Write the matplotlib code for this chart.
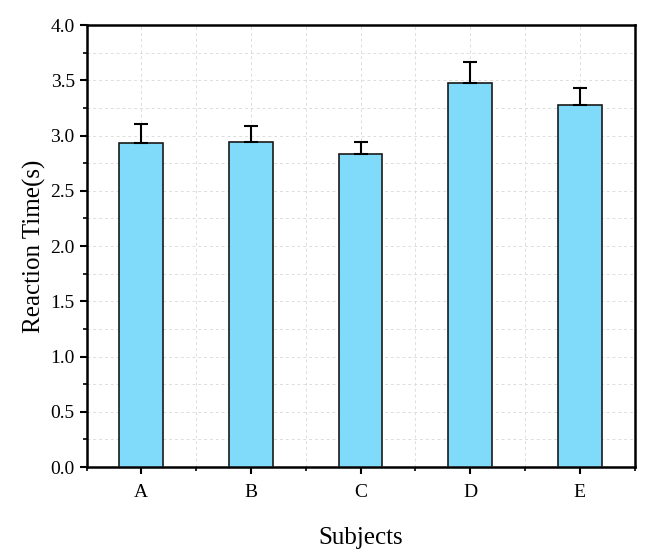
import matplotlib
matplotlib.use("Agg")
import matplotlib.pyplot as plt
from matplotlib.ticker import MultipleLocator

# Data
subjects = ["A", "B", "C", "D", "E"]
reaction_time = [2.93, 2.94, 2.83, 3.48, 3.28]
reaction_err = [0.175, 0.15, 0.11, 0.19, 0.15]

plt.rcParams['font.family'] = ['Liberation Serif', 'DejaVu Serif']

fig = plt.figure(figsize=(6.52, 5.58), dpi=100)
ax = fig.add_axes([0.1327, 0.163, 0.8405, 0.792])

x = list(range(len(subjects)))
ax.bar(x, reaction_time, width=0.4, color='#80DBFA', edgecolor='#1a1a1a',
       linewidth=1.2, zorder=3)
ax.errorbar(x, reaction_time, yerr=[[0] * len(x), reaction_err], fmt='none',
            ecolor='black', elinewidth=1.5, capsize=4.7, capthick=1.5, zorder=4)

ax.set_xlim(-0.5, 4.5)
ax.set_ylim(0, 4.0)
ax.set_xticks(x)
ax.set_xticklabels(subjects)
ax.xaxis.set_minor_locator(MultipleLocator(0.5))
ax.yaxis.set_major_locator(MultipleLocator(0.5))
ax.yaxis.set_minor_locator(MultipleLocator(0.25))

ax.grid(True, which='both', linestyle=(0, (3, 3)), color='#dddddd', linewidth=0.7, zorder=0)

ax.tick_params(axis='both', which='major', direction='out', length=5, width=1.5, labelsize=14)
ax.tick_params(axis='x', which='major', pad=7)
ax.tick_params(axis='both', which='minor', direction='out', length=3, width=1.2)
for s in ax.spines.values():
    s.set_linewidth(1.8)

ax.set_xlabel('Subjects', fontsize=18, labelpad=19)
ax.set_ylabel('Reaction Time(s)', fontsize=18, labelpad=3)

fig.savefig("out.png", dpi=100)
